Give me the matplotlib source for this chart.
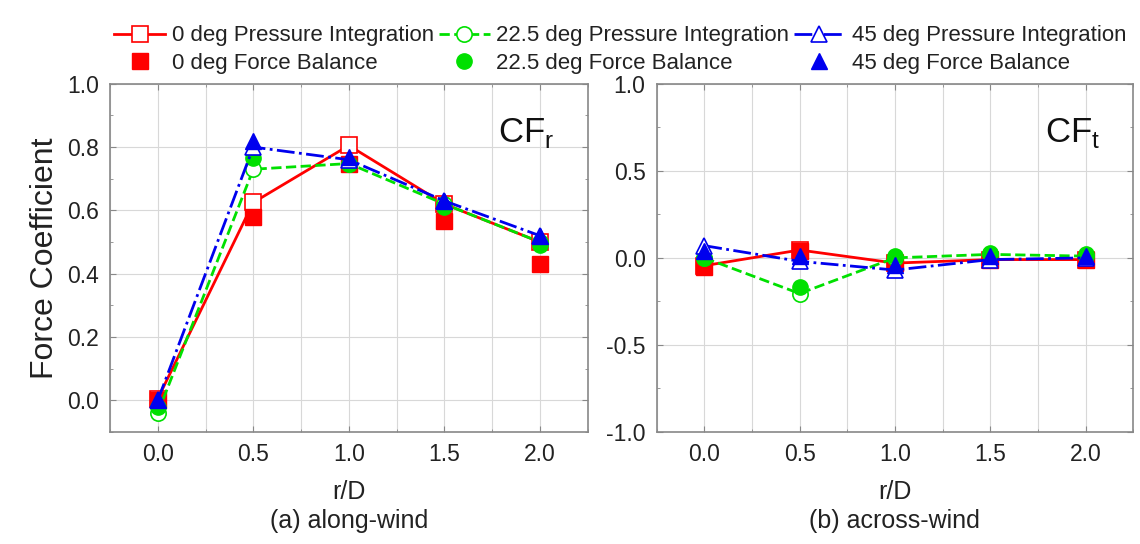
import matplotlib.pyplot as plt
from matplotlib.ticker import MultipleLocator

plt.rcParams['font.family'] = ['Liberation Sans', 'DejaVu Sans']
plt.rcParams['axes.unicode_minus'] = False

r_d = [0.0, 0.5, 1.0, 1.5, 2.0]

# along-wind CFr
cfr_0_pi = [0.005, 0.625, 0.805, 0.62, 0.50]
cfr_0_fb = [0.0, 0.578, 0.745, 0.567, 0.43]
cfr_22_pi = [-0.04, 0.73, 0.748, 0.62, 0.50]
cfr_22_fb = [-0.02, 0.765, 0.745, 0.61, 0.49]
cfr_45_pi = [0.0, 0.80, 0.76, 0.63, 0.52]
cfr_45_fb = [0.0, 0.82, 0.77, 0.63, 0.52]

# across-wind CFt
cft_0_pi = [-0.045, 0.045, -0.03, -0.01, -0.01]
cft_0_fb = [-0.05, 0.04, -0.03, -0.01, -0.01]
cft_22_pi = [0.0, -0.205, 0.0, 0.02, 0.01]
cft_22_fb = [0.0, -0.17, 0.01, 0.03, 0.02]
cft_45_pi = [0.07, -0.02, -0.07, -0.01, 0.0]
cft_45_fb = [0.04, 0.01, -0.04, 0.01, 0.01]

angles = ['0', '22.5', '45']
colors = ['#ff0000', '#00e000', '#0000ee']
styles = ['-', '--', '-.']
markers = ['s', 'o', '^']

fig = plt.figure(figsize=(11.4, 5.44), dpi=100)
ax1 = fig.add_axes([0.0965, 0.206, 0.419, 0.64])
ax2 = fig.add_axes([0.576, 0.206, 0.418, 0.64])

panels = [
    (ax1, [cfr_0_pi, cfr_22_pi, cfr_45_pi], [cfr_0_fb, cfr_22_fb, cfr_45_fb]),
    (ax2, [cft_0_pi, cft_22_pi, cft_45_pi], [cft_0_fb, cft_22_fb, cft_45_fb]),
]

handles = []
for ax, pi_sets, fb_sets in panels:
    handles = []
    for i in range(3):
        h1, = ax.plot(r_d, pi_sets[i], color=colors[i], ls=styles[i], lw=2,
                      marker=markers[i], ms=11, mfc='white', mec=colors[i],
                      mew=1.2, label=angles[i] + ' deg Pressure Integration')
        h2, = ax.plot(r_d, fb_sets[i], color=colors[i], ls='none',
                      marker=markers[i], ms=11,
                      label=angles[i] + ' deg Force Balance')
        handles += [h1, h2]
    ax.set_xlim(-0.25, 2.25)
    ax.xaxis.set_major_locator(MultipleLocator(0.5))
    ax.xaxis.set_minor_locator(MultipleLocator(0.25))
    ax.grid(True, which='major', color='#d8d8d8', lw=0.8)
    ax.grid(True, which='minor', axis='x', color='#d8d8d8', lw=0.8)
    ax.set_axisbelow(True)
    ax.tick_params(which='both', direction='in', top=True, right=True,
                   colors='#888888', labelcolor='#222222', labelsize=16.5)
    ax.tick_params(which='major', length=4, pad=8)
    ax.tick_params(which='minor', length=2.5)
    for s in ax.spines.values():
        s.set_color('#888888')
        s.set_linewidth(1.2)
    ax.set_xlabel('r/D', fontsize=18, color='#222222', labelpad=10)

ax1.set_ylim(-0.1, 1.0)
ax1.yaxis.set_major_locator(MultipleLocator(0.2))
ax1.yaxis.set_minor_locator(MultipleLocator(0.1))
ax1.set_ylabel('Force Coefficient', fontsize=23, color='#222222', labelpad=5)
ax1.text(0.93, 0.86, 'CF$_\\mathregular{r}$', transform=ax1.transAxes,
         fontsize=25, ha='right', va='center', color='#111111')

ax2.set_ylim(-1.0, 1.0)
ax2.yaxis.set_major_locator(MultipleLocator(0.5))
ax2.yaxis.set_minor_locator(MultipleLocator(0.25))
ax2.text(0.93, 0.86, 'CF$_\\mathregular{t}$', transform=ax2.transAxes,
         fontsize=25, ha='right', va='center', color='#111111')

fig.text(0.306, 0.03, '(a) along-wind', fontsize=18, ha='center', color='#222222')
fig.text(0.785, 0.03, '(b) across-wind', fontsize=18, ha='center', color='#222222')

fig.legend(handles=handles, loc='upper center', bbox_to_anchor=(0.544, 0.99),
           ncol=3, frameon=False, fontsize=16, handlelength=2.3,
           handletextpad=0.3, columnspacing=0.2, labelspacing=0.28,
           labelcolor='#222222')

fig.savefig('out.png', dpi=100)
